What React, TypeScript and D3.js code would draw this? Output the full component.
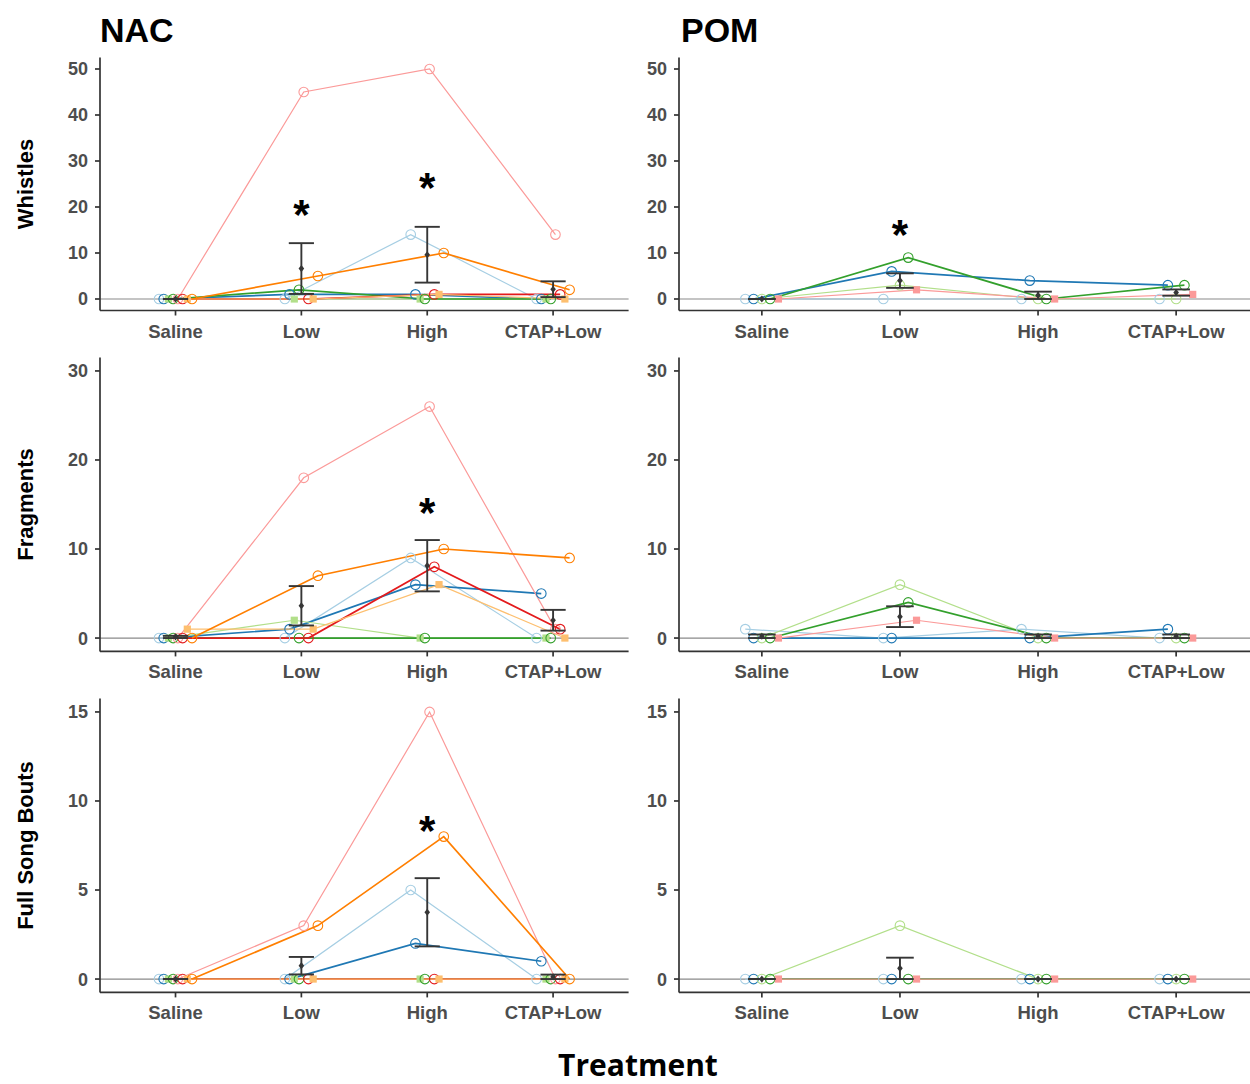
import React from "react";
import * as d3 from "d3";

// ---- data -------------------------------------------------------------
const treatments = ["Saline", "Low", "High", "CTAP+Low"];
const measures = ["Whistles", "Fragments", "Full Song Bouts"];
const regions = ["NAC", "POM"];

// birds per region, and the marker group each bird belongs to
const nacBirds = ["N1", "N2", "N3", "N4", "N5", "N6", "N7", "N8"];
const nacGroup = ["A", "A", "B", "A", "A", "A", "B", "A"];
const pomBirds = ["P1", "P2", "P3", "P4", "P5"];
const pomGroup = ["A", "A", "A", "A", "B"];

// counts per bird (rows) across treatments (columns)
const nacWhistles = [
  [0, 0, 14, 0],
  [0, 1, 1, 0],
  [0, 0, 0, 0],
  [0, 2, 0, 0],
  [0, 45, 50, 14],
  [0, 0, 1, 1],
  [0, 0, 1, 0],
  [0, 5, 10, 2],
];
const nacFragments = [
  [0, 0, 9, 0],
  [0, 1, 6, 5],
  [0, 2, 0, 0],
  [0, 0, 0, 0],
  [0, 18, 26, 1],
  [0, 0, 8, 1],
  [1, 1, 6, 0],
  [0, 7, 10, 9],
];
const nacFullSong = [
  [0, 0, 5, 0],
  [0, 0, 2, 1],
  [0, 0, 0, 0],
  [0, 0, 0, 0],
  [0, 3, 15, 0],
  [0, 0, 0, 0],
  [0, 0, 0, 0],
  [0, 3, 8, 0],
];
const pomWhistles = [
  [0, 0, 0, 0],
  [0, 6, 4, 3],
  [0, 3, 0, 0],
  [0, 9, 0, 3],
  [0, 2, 0, 1],
];
const pomFragments = [
  [1, 0, 1, 0],
  [0, 0, 0, 1],
  [0, 6, 0, 0],
  [0, 4, 0, 0],
  [0, 2, 0, 0],
];
const pomFullSong = [
  [0, 0, 0, 0],
  [0, 0, 0, 0],
  [0, 3, 0, 0],
  [0, 0, 0, 0],
  [0, 0, 0, 0],
];

const yMaxByMeasure = [50, 30, 15];
const yTicksWhistles = [0, 10, 20, 30, 40, 50];
const yTicksFragments = [0, 10, 20, 30];
const yTicksFullSong = [0, 5, 10, 15];

// significance marks: region, measure, treatment, height in data units
const starRegion = ["NAC", "NAC", "POM", "NAC", "NAC"];
const starMeasure = ["Whistles", "Whistles", "Whistles", "Fragments", "Full Song Bouts"];
const starTreatment = ["Low", "High", "Low", "High", "High"];
const starY = [20.2, 26.1, 15.9, 15.1, 8.8];

// ---- layout -----------------------------------------------------------
const W = 1250;
const H = 1084;
const cols = [
  { left: 100, right: 628.6 },
  { left: 679, right: 1259 },
];
const rows = [
  { top: 57.5, bottom: 310.5 },
  { top: 357.6, bottom: 651.4 },
  { top: 698.6, bottom: 992.4 },
];
const DODGE = 0.3;
const CAP = 0.2;

const TICK_FONT = "'Liberation Sans', Arial, sans-serif";
const TICK_COLOR = "#4d4d4d";
const AXIS_COLOR = "#333333";

const regionData = {
  NAC: { birds: nacBirds, group: nacGroup, values: [nacWhistles, nacFragments, nacFullSong] },
  POM: { birds: pomBirds, group: pomGroup, values: [pomWhistles, pomFragments, pomFullSong] },
};
const tickSets = [yTicksWhistles, yTicksFragments, yTicksFullSong];

const palette = d3.schemePaired;

function Panel({ region, ri, ci }) {
  const { birds, group, values } = regionData[region];
  const data = values[ri];
  const col = cols[ci];
  const row = rows[ri];
  const max = yMaxByMeasure[ri];

  const x = d3.scalePoint().domain(treatments).range([col.left, col.right]).padding(0.6);
  const step = x.step();
  const y = d3.scaleLinear().domain([-0.05 * max, 1.05 * max]).range([row.bottom, row.top]);

  const n = birds.length;
  const dodgeStep = (DODGE / n) * step;
  const offset = (i) => (i - (n - 1) / 2) * dodgeStep;

  const line = d3
    .line()
    .x((d) => d[0])
    .y((d) => d[1]);

  const summary = treatments.map((t, ti) => {
    const vals = data.map((r) => r[ti]);
    const m = d3.mean(vals);
    const se = d3.deviation(vals) / Math.sqrt(vals.length);
    return { t, m, lo: m - se, hi: m + se };
  });

  const stars = starRegion
    .map((r, i) => ({ r, m: starMeasure[i], t: starTreatment[i], y: starY[i] }))
    .filter((s) => s.r === region && s.m === measures[ri]);

  const isDark = (i) => i % 2 === 1;

  return (
    <g>
      {/* zero reference line */}
      <line x1={col.left} x2={col.right} y1={y(0)} y2={y(0)} stroke="#8a8a8a" strokeWidth={1.2} />

      {/* one trajectory per bird */}
      {birds.map((b, i) => (
        <path
          key={"l" + b}
          d={line(treatments.map((t, ti) => [x(t) + offset(i), y(data[i][ti])]))}
          fill="none"
          stroke={palette[i]}
          strokeWidth={isDark(i) ? 1.7 : 1.2}
        />
      ))}

      {/* bird points */}
      {birds.map((b, i) =>
        treatments.map((t, ti) => {
          const cx = x(t) + offset(i);
          const cy = y(data[i][ti]);
          return group[i] === "B" ? (
            <rect key={b + t} x={cx - 3.6} y={cy - 3.6} width={7.2} height={7.2} fill={palette[i]} />
          ) : (
            <circle key={b + t} cx={cx} cy={cy} r={4.8} fill="none" stroke={palette[i]} strokeWidth={1.1} />
          );
        })
      )}

      {/* mean ± SE */}
      {summary.map((s) => {
        const cx = x(s.t);
        const hw = (CAP / 2) * step;
        return (
          <g key={"s" + s.t} stroke="#363636" strokeWidth={1.9}>
            <line x1={cx} x2={cx} y1={y(s.lo)} y2={y(s.hi)} />
            <line x1={cx - hw} x2={cx + hw} y1={y(s.lo)} y2={y(s.lo)} />
            <line x1={cx - hw} x2={cx + hw} y1={y(s.hi)} y2={y(s.hi)} />
            <path
              d={`M${cx},${y(s.m) - 3.6}L${cx + 2.8},${y(s.m)}L${cx},${y(s.m) + 3.6}L${cx - 2.8},${y(s.m)}Z`}
              fill="#363636"
              stroke="none"
            />
          </g>
        );
      })}

      {/* axes */}
      <line x1={col.left} x2={col.left} y1={row.top} y2={row.bottom} stroke={AXIS_COLOR} strokeWidth={1.7} />
      <line x1={col.left} x2={col.right} y1={row.bottom} y2={row.bottom} stroke={AXIS_COLOR} strokeWidth={1.7} />
      {tickSets[ri].map((v) => (
        <g key={"yt" + v}>
          <line x1={col.left - 5} x2={col.left} y1={y(v)} y2={y(v)} stroke={AXIS_COLOR} strokeWidth={1.7} />
          <text
            x={col.left - 12}
            y={y(v)}
            dy="0.36em"
            textAnchor="end"
            fontFamily={TICK_FONT}
            fontWeight="bold"
            fontSize={18}
            fill={TICK_COLOR}
          >
            {v}
          </text>
        </g>
      ))}
      {treatments.map((t) => (
        <g key={"xt" + t}>
          <line x1={x(t)} x2={x(t)} y1={row.bottom} y2={row.bottom + 5} stroke={AXIS_COLOR} strokeWidth={1.7} />
          <text
            x={x(t)}
            y={row.bottom + 27}
            textAnchor="middle"
            fontFamily={TICK_FONT}
            fontWeight="bold"
            fontSize={18.5}
            fill={TICK_COLOR}
          >
            {t}
          </text>
        </g>
      ))}

      {/* significance */}
      {stars.map((s, i) => (
        <text
          key={"st" + i}
          x={x(s.t)}
          y={y(s.y) + 23}
          textAnchor="middle"
          fontFamily={TICK_FONT}
          fontWeight="bold"
          fontSize={42}
          fill="#000"
        >
          *
        </text>
      ))}
    </g>
  );
}

export default function App() {
  return (
    <svg
      width={W}
      height={H}
      viewBox={`0 0 ${W} ${H}`}
      style={{ position: "absolute", left: 0, top: 0, background: "#fff" }}
    >
      <rect width={W} height={H} fill="#fff" />
      {regions.map((r, ci) => (
        <text
          key={"t" + r}
          x={cols[ci].left + (ci === 0 ? 0 : 2)}
          y={42}
          fontFamily={TICK_FONT}
          fontWeight="bold"
          fontSize={34}
          fill="#000"
        >
          {r}
        </text>
      ))}
      {measures.map((m, ri) => (
        <text
          key={"yl" + m}
          transform={`translate(33,${(rows[ri].top + rows[ri].bottom) / 2}) rotate(-90)`}
          textAnchor="middle"
          fontFamily={TICK_FONT}
          fontWeight="bold"
          fontSize={22}
          fill="#000"
        >
          {m}
        </text>
      ))}
      {regions.map((r, ci) => measures.map((m, ri) => <Panel key={r + m} region={r} ri={ri} ci={ci} />))}
      <text
        x={638}
        y={1076}
        textAnchor="middle"
        fontFamily="'Open Sans', sans-serif"
        fontWeight="bold"
        fontSize={30}
        fill="#000"
      >
        Treatment
      </text>
    </svg>
  );
}
